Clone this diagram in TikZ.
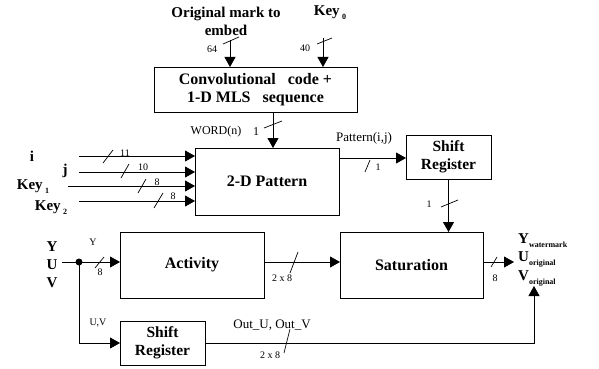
\documentclass[tikz,border=0pt]{standalone}
\usepackage{fontspec}
\setmainfont{Liberation Serif}
\usetikzlibrary{arrows.meta,positioning,calc}
\newcommand{\fs}[2]{\fontsize{#1}{#2}\selectfont}
\newcommand{\lowsub}[1]{\,\raisebox{-4pt}{\fs{8}{8}\bfseries #1}}
\tikzset{
  block/.style={draw,line width=1pt,align=center,inner sep=0pt,outer sep=0pt,
    font=\fs{16}{18}\bfseries},
  arrow/.style={-{Triangle[length=10pt,width=11pt]},line width=0.8pt},
  tick/.style={line width=0.7pt},
  bus/.style={font=\fs{10}{10},inner sep=0pt},
  sig/.style={font=\fs{13}{13},inner sep=0pt},
  port/.style={font=\fs{15}{18}\bfseries,inner sep=0pt,align=center}
}
\begin{document}
\begin{tikzpicture}[x=1pt,y=-1pt]
  \useasboundingbox (0,0) rectangle (599,369);
  % blocks
  \node[block,minimum width=203pt,minimum height=45pt] (conv) at (255.5,89.5)
    {Convolutional~~~code +\\1-D MLS~~~sequence};
  \node[block,minimum width=144pt,minimum height=67pt] (pattern) at (267,181.5) {2-D Pattern};
  \node[block,minimum width=85pt,minimum height=44pt,font=\fs{15.5}{18}\bfseries] (shifttop) at (448.5,157) {Shift\\Register};
  \node[block,minimum width=144pt,minimum height=66pt] (activity) at (192,265) {Activity};
  \node[block,minimum width=143pt,minimum height=66pt] (saturation) at (411.5,265) {Saturation};
  \node[block,minimum width=85pt,minimum height=44pt,font=\fs{15.5}{18}\bfseries] (shiftbot) at (162.5,343) {Shift\\Register};

  % top inputs
  \node[port] (mark) at (226,21) {Original mark to\\embed};
  \node[port] (key0) at (330,13) {Key\lowsub{0}};
  \coordinate (markin) at (230,40);
  \coordinate (keyin) at (323,38);
  \draw[arrow] (markin) -- (markin |- conv.north);
  \draw[arrow] (keyin) -- (keyin |- conv.north);
  \draw[tick] (223,44) -- (239,37);
  \draw[tick] (317,44) -- (332,38);
  \node[bus] at (212,49) {64};
  \node[bus] at (305,48) {40};

  % word into the pattern generator
  \coordinate (word) at (273,112);
  \draw[arrow] (word) -- (word |- pattern.north);
  \draw[tick] (264,128) -- (282,121);
  \node[sig,font=\fs{12}{12}] at (216,132) {WORD(n)};
  \node[sig,font=\fs{12}{12}] at (256,132) {1};

  % index and key inputs
  \node[port] (ilab) at (32,156) {i};
  \node[port] (jlab) at (65,171) {j};
  \node[port] (key1) at (33,187) {Key\lowsub{1}};
  \node[port] (key2) at (51,208) {Key\lowsub{2}};
  \coordinate (iin) at (79,156);
  \coordinate (jin) at (79,172);
  \coordinate (k1in) at (68,186);
  \coordinate (k2in) at (79,201);
  \foreach \c in {iin,jin,k1in,k2in}
    \draw[arrow] (\c) -- (\c -| pattern.west);
  \draw[tick] (103,163) -- (113,150);
  \draw[tick] (121,178) -- (129,164);
  \draw[tick] (138,193) -- (146,179);
  \draw[tick] (154,208) -- (163,193);
  \node[bus] at (125,153) {11};
  \node[bus] at (143,167) {10};
  \node[bus] at (157,182) {8};
  \node[bus] at (173,196) {8};

  % pattern to shift register
  \coordinate (pout) at (339,158);
  \draw[arrow] (pout) -- (pout -| shifttop.west);
  \node[sig] at (364,138) {Pattern(i,j)};
  \draw[tick] (365,172) -- (370,160);
  \node[bus] at (378,167) {1};
  \draw[arrow] (shifttop.south) -- (shifttop.south |- saturation.north);
  \draw[tick] (441,207) -- (458,200);
  \node[bus] at (429,204) {1};

  % YUV path
  \node[port] (ylab) at (52,247) {Y};
  \node[port] (ulab) at (52,265) {U};
  \node[port] (vlab) at (52,283) {V};
  \coordinate (yuv) at (62,262);
  \coordinate (split) at (79,262);
  \draw[arrow] (yuv) -- (yuv -| activity.west);
  \fill (split) circle (3.5pt);
  \draw[tick] (95,268) -- (104,257);
  \node[bus] at (93,242) {Y};
  \node[bus] at (100,272) {8};
  \draw[arrow] (split -| activity.east) -- (split -| saturation.west);
  \draw[tick] (290,273) -- (298,252);
  \node[bus] at (282,278) {2 x 8};

  % outputs
  \coordinate (outtip) at (514,262);
  \draw[arrow] (split -| saturation.east) -- (outtip);
  \draw[tick] (491,267) -- (497,257);
  \node[bus] at (495,278) {8};
  \node[port,anchor=west] (yout) at (518,241) {Y\raisebox{-4pt}{\fs{8}{8}\bfseries watermark}};
  \node[port,anchor=west] (uout) at (518,259) {U\raisebox{-4pt}{\fs{8}{8}\bfseries original}};
  \node[port,anchor=west] (vout) at (518,278) {V\raisebox{-4pt}{\fs{8}{8}\bfseries original}};

  % chroma through the lower shift register
  \draw[arrow] (split) |- (shiftbot.west);
  \node[bus] at (98,323) {U,V};
  \coordinate (vtip) at (534,286);
  \draw[arrow] (shiftbot.east) -| (vtip);
  \node[sig] at (272,325) {Out\_U, Out\_V};
  \draw[tick] (284,353) -- (290,329);
  \node[bus] at (270,355) {2 x 8};
\end{tikzpicture}
\end{document}
